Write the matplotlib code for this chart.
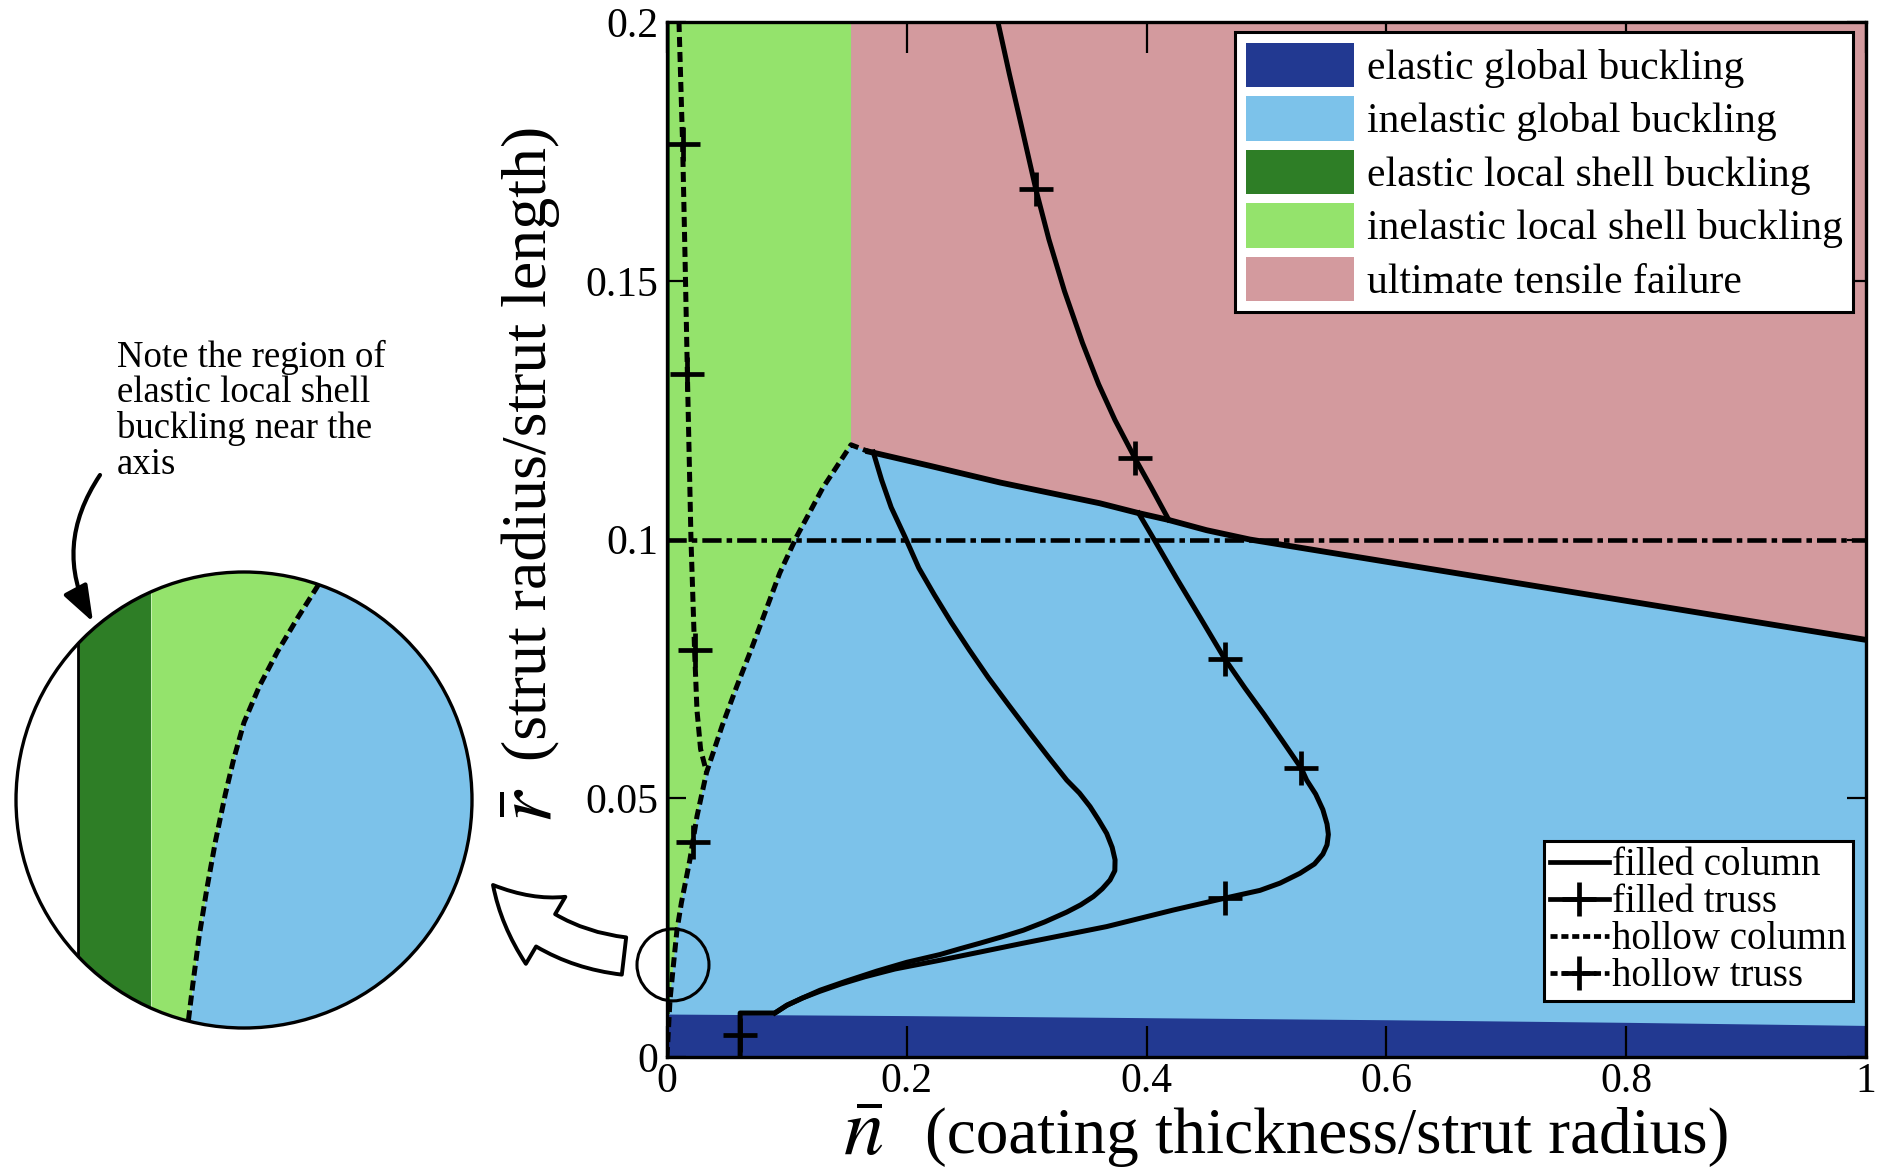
import matplotlib.pyplot as plt
from matplotlib.patches import Patch, Circle, Ellipse, FancyArrowPatch
from matplotlib.lines import Line2D

plt.rcParams['font.family'] = 'serif'
plt.rcParams['font.serif'] = ['Liberation Serif', 'DejaVu Serif']
plt.rcParams['mathtext.fontset'] = 'stix'

# region colours
C_EG = '#223991'   # elastic global buckling
C_IG = '#7CC2EA'   # inelastic global buckling
C_EL = '#2E7E26'   # elastic local shell buckling
C_IL = '#94E36C'   # inelastic local shell buckling
C_UT = '#D39A9E'   # ultimate tensile failure

# --- data ---
x_ticks = [0, 0.2, 0.4, 0.6, 0.8, 1.0]
x_tick_labels = ['0', '0.2', '0.4', '0.6', '0.8', '1']
y_ticks = [0, 0.05, 0.1, 0.15, 0.2]
y_tick_labels = ['0', '0.05', '0.1', '0.15', '0.2']

# elastic global buckling band (top edge)
band_x = [0.0, 0.2, 0.4, 0.6, 0.8, 1.0]
band_y = [0.0083, 0.0080, 0.0076, 0.0072, 0.0067, 0.0061]

# hollow column curve = border of inelastic local shell region
hcol_x = [0.0, 0.0025, 0.0055, 0.0083, 0.012, 0.019, 0.025, 0.033, 0.046, 0.058,
          0.070, 0.085, 0.094, 0.108, 0.130, 0.1535, 0.168]
hcol_y = [0.0, 0.011, 0.0181, 0.0245, 0.0298, 0.038, 0.0465, 0.055, 0.0640, 0.0715,
          0.0786, 0.0879, 0.0935, 0.1005, 0.110, 0.1183, 0.117]
shell_x_max = 0.1535

# ultimate tensile failure border
uts_x = [0.168, 0.220, 0.278, 0.361, 0.3933, 0.418, 0.450, 0.486, 1.0]
uts_y = [0.117, 0.1142, 0.111, 0.107, 0.1051, 0.1038, 0.1018, 0.1000, 0.0806]

# hollow truss (dashed with + markers)
htr_x = [0.010, 0.013, 0.015, 0.017, 0.020, 0.023, 0.025, 0.028, 0.033]
htr_y = [0.2, 0.1765, 0.155, 0.132, 0.100, 0.0786, 0.067, 0.0595, 0.055]
htr_mx = [0.013, 0.017, 0.023, 0.022]
htr_my = [0.1765, 0.132, 0.0786, 0.0416]

# horizontal dash-dot reference
ref_x = [0.0, 1.0]
ref_y = [0.1, 0.1]

# filled column
fcol_x = [0.172, 0.179, 0.187, 0.1985, 0.210, 0.223, 0.237, 0.252, 0.268, 0.285, 0.302,
          0.318, 0.3334, 0.344, 0.3528, 0.360, 0.3667, 0.3713, 0.3737, 0.3735, 0.3695,
          0.3630, 0.3556, 0.3450, 0.3334, 0.3150, 0.2972, 0.2790, 0.2611, 0.2440,
          0.2277, 0.200, 0.175, 0.150, 0.1276, 0.113, 0.100, 0.090]
fcol_y = [0.1169, 0.1115, 0.1062, 0.1005, 0.0945, 0.0893, 0.0840, 0.0787, 0.0733, 0.0680,
          0.0628, 0.0580, 0.0535, 0.0510, 0.0484, 0.0458, 0.0432, 0.0405, 0.0381, 0.0360,
          0.0342, 0.0325, 0.0310, 0.0294, 0.0280, 0.0261, 0.0245, 0.0232, 0.0220, 0.0209,
          0.0198, 0.0183, 0.0166, 0.0147, 0.0129, 0.0114, 0.0100, 0.0085]

# filled truss: part above the failure border and part below it
ftr1_x = [0.2760, 0.2855, 0.2955, 0.3076, 0.3185, 0.3315, 0.3465, 0.3600, 0.3736,
          0.3903, 0.4040, 0.4185]
ftr1_y = [0.2000, 0.1900, 0.1800, 0.1677, 0.1580, 0.1480, 0.1380, 0.1300, 0.1231,
          0.1157, 0.1100, 0.1038]
ftr2_x = [0.3933, 0.406, 0.4248, 0.445, 0.465, 0.482, 0.498, 0.513, 0.529, 0.5335,
          0.541, 0.547, 0.5505, 0.5516, 0.5505, 0.547, 0.540, 0.5279, 0.5113, 0.4946,
          0.4654, 0.4223, 0.3667, 0.2972, 0.2277, 0.190, 0.165, 0.145, 0.1276, 0.113,
          0.100, 0.090, 0.061, 0.061]
ftr2_y = [0.1051, 0.1001, 0.0926, 0.0848, 0.0770, 0.0713, 0.0662, 0.0612, 0.0558, 0.0535,
          0.0508, 0.0478, 0.0450, 0.0430, 0.0410, 0.0392, 0.0373, 0.0355, 0.0336, 0.0322,
          0.0307, 0.0284, 0.0252, 0.0220, 0.0187, 0.0170, 0.0155, 0.0141, 0.0127, 0.0114,
          0.0100, 0.0085, 0.0085, 0.0]
ftr_mx = [0.308, 0.390, 0.465, 0.529, 0.4654, 0.061]
ftr_my = [0.1677, 0.1157, 0.077, 0.0558, 0.0307, 0.0043]

# zoomed inset (unit-circle coordinates)
ins_cx = [0.36, 0.316, 0.236, 0.147, 0.068, 0.0, -0.045, -0.082, -0.125, -0.163,
          -0.197, -0.224, -0.243, -0.248]
ins_cy = [1.0, 0.927, 0.80, 0.651, 0.50, 0.34, 0.18, 0.025, -0.18, -0.39,
          -0.60, -0.805, -0.96, -1.0]
ins_axis_x = -0.728
ins_el_right = -0.408

region_labels = ['elastic global buckling', 'inelastic global buckling',
                 'elastic local shell buckling', 'inelastic local shell buckling',
                 'ultimate tensile failure']
region_colors = [C_EG, C_IG, C_EL, C_IL, C_UT]
line_labels = ['filled column', 'filled truss', 'hollow column', 'hollow truss']

W, H = 1884, 1173
fig = plt.figure(figsize=(W / 100, H / 100), dpi=100)
ax = fig.add_axes([667 / W, 1 - 1057 / H, 1199 / W, 1035 / H])
ax.set_xlim(0, 1)
ax.set_ylim(0, 0.2)
ax.set_facecolor(C_IG)

LW = 3.6
DASH = (0, (2.0, 1.0))
DASHDOT = (0, (4.2, 1.1, 1.2, 1.1))

# regions
n_apex = hcol_x.index(shell_x_max)
ax.fill([shell_x_max, 1.0] + uts_x[::-1] + [shell_x_max],
        [0.2, 0.2] + uts_y[::-1] + [hcol_y[n_apex]], color=C_UT, lw=0, zorder=1)
ax.fill([0.0, shell_x_max] + hcol_x[:n_apex + 1][::-1],
        [0.2, 0.2] + hcol_y[:n_apex + 1][::-1], color=C_IL, lw=0, zorder=1)
ax.fill_between(band_x, 0, band_y, color=C_EG, lw=0, zorder=1)
ax.fill_betweenx([band_y[0], 0.2], 0, 0.0025, color=C_EL, lw=0, zorder=1)

# lines
ax.plot(ref_x, ref_y, color='k', lw=3.3, ls=DASHDOT, zorder=2)
ax.plot(uts_x, uts_y, color='k', lw=LW + 0.6, zorder=3, solid_joinstyle='round')
ax.plot(hcol_x, hcol_y, color='k', lw=LW, ls=DASH, zorder=3)
ax.plot(htr_x, htr_y, color='k', lw=LW, ls=DASH, zorder=3)
ax.plot(htr_mx, htr_my, ls='none', marker='+', ms=24, mew=3.4, color='k', zorder=4)
ax.plot(fcol_x, fcol_y, color='k', lw=LW, zorder=3, solid_joinstyle='round')
ax.plot(ftr1_x, ftr1_y, color='k', lw=LW, zorder=3, solid_joinstyle='round')
ax.plot(ftr2_x, ftr2_y, color='k', lw=LW, zorder=3, solid_joinstyle='round')
ax.plot(ftr_mx, ftr_my, ls='none', marker='+', ms=24, mew=3.4, color='k', zorder=4)

# small circle marking the zoomed area
ax.add_patch(Ellipse((0.005, 0.0178), 72 / 1199, 72 / 5175, fill=False, lw=2.2,
                     edgecolor='k', clip_on=False, zorder=5))

# axes styling
ax.set_xticks(x_ticks)
ax.set_xticklabels(x_tick_labels)
ax.set_yticks(y_ticks)
ax.set_yticklabels(y_tick_labels)
ax.tick_params(direction='in', top=True, right=True, labelsize=30, width=1.6)
ax.tick_params(axis='x', length=22, pad=4)
ax.tick_params(axis='y', length=14, pad=6)
for sp in ax.spines.values():
    sp.set_linewidth(2.4)
    sp.set_zorder(6)

# legends
h1 = [Patch(facecolor=c, edgecolor='none') for c in region_colors]
leg1 = ax.legend(h1, region_labels, loc='upper right', bbox_to_anchor=(0.989, 0.990),
                 fontsize=30, handlelength=2.6, handleheight=1.26, handletextpad=0.3,
                 labelspacing=0.2, borderpad=0.25, borderaxespad=0, fancybox=False,
                 framealpha=1, edgecolor='k')
leg1.get_frame().set_linewidth(2.2)
ax.add_artist(leg1)

h2 = [Line2D([], [], color='k', lw=3.4),
      Line2D([], [], color='k', lw=3.4, marker='+', ms=24, mew=3.4),
      Line2D([], [], color='k', lw=3.4, ls=(0, (1.5, 0.8))),
      Line2D([], [], color='k', lw=3.4, ls=(0, (1.5, 0.8)), marker='+', ms=24, mew=3.4)]
leg2 = ax.legend(h2, line_labels, loc='lower right', bbox_to_anchor=(0.989, 0.054),
                 fontsize=28, handlelength=1.5, handletextpad=0.1, labelspacing=0.0,
                 borderpad=0.15, borderaxespad=0, fancybox=False, framealpha=1,
                 edgecolor='k')
leg2.get_frame().set_linewidth(2.2)

# axis labels
fig.text(863 / W, 1 - 1135 / H, r'$\bar{n}$', fontsize=58, ha='center', va='center')
fig.text(925 / W, 1 - 1137 / H, '(coating thickness/strut radius)', fontsize=47,
         ha='left', va='center')
fig.text(532 / W, 1 - 805 / H, r'$\bar{r}$', fontsize=58, rotation=90,
         ha='center', va='center')
fig.text(531 / W, 1 - 443 / H, '(strut radius/strut length)', fontsize=46,
         rotation=90, ha='center', va='center')

# note text and its arrow
fig.text(117 / W, 1 - 340 / H,
         'Note the region of\nelastic local shell\nbuckling near the\naxis',
         fontsize=26.5, ha='left', va='top', linespacing=1.03)
fig.add_artist(FancyArrowPatch((100 / W, 1 - 475 / H), (93 / W, 1 - 622 / H),
                               transform=fig.transFigure,
                               connectionstyle='arc3,rad=0.3',
                               arrowstyle='-|>,head_length=22,head_width=8',
                               mutation_scale=1, lw=3, color='k',
                               shrinkA=0, shrinkB=0))

# hollow block arrow from small circle to the inset
fig.add_artist(FancyArrowPatch((624 / W, 1 - 956 / H), (493 / W, 1 - 885 / H),
                               transform=fig.transFigure,
                               connectionstyle='arc3,rad=-0.2',
                               arrowstyle='simple,head_length=50,head_width=56,tail_width=27',
                               mutation_scale=1, lw=2.8, facecolor='white',
                               edgecolor='k', shrinkA=0, shrinkB=0))

# zoomed circular inset
cx, cy, r = 244, 800, 228
ins = fig.add_axes([(cx - r) / W, 1 - (cy + r) / H, 2 * r / W, 2 * r / H])
ins.set_xlim(-1, 1)
ins.set_ylim(-1, 1)
ins.axis('off')
clip = Circle((0, 0), 1, transform=ins.transData)
arts = [
    ins.fill_betweenx([-1.05, 1.05], ins_axis_x, ins_el_right, color=C_EL, lw=0),
    ins.fill_betweenx(ins_cy, ins_el_right, ins_cx, color=C_IL, lw=0),
    ins.fill_betweenx(ins_cy, ins_cx, 1.05, color=C_IG, lw=0),
]
arts += ins.plot([ins_axis_x, ins_axis_x], [-1.05, 1.05], color='k', lw=2)
arts += ins.plot(ins_cx, ins_cy, color='k', lw=LW, ls=DASH)
for a in arts:
    a.set_clip_path(clip)
ins.add_patch(Circle((0, 0), 1, fill=False, lw=2.4, edgecolor='k', clip_on=False))

fig.savefig('out.png', dpi=100)
